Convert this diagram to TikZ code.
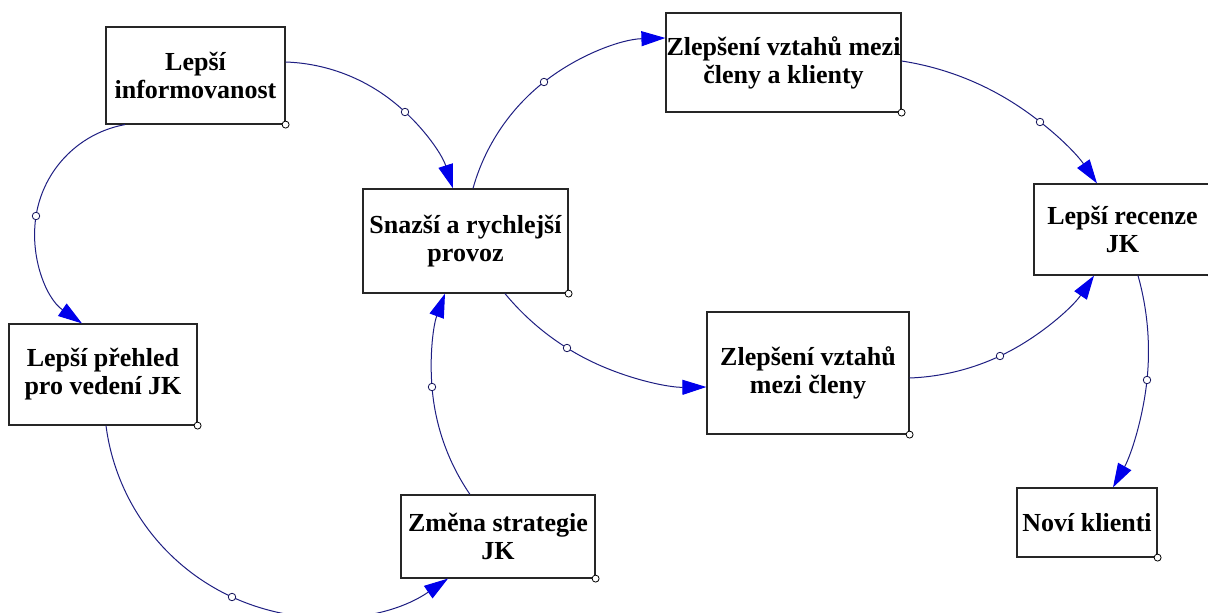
\documentclass[tikz,border=0pt]{standalone}
\usepackage{fontspec}
\setmainfont{Liberation Serif}
\usetikzlibrary{arrows.meta,calc}
\definecolor{linkblue}{RGB}{30,30,130}
\definecolor{headblue}{RGB}{0,0,235}
\newdimen\aSx \newdimen\aSy \newdimen\aMx \newdimen\aMy \newdimen\aEx \newdimen\aEy
\tikzset{
  box/.style={draw=black!85, line width=1.2pt, fill=white, align=center,
    font=\fontsize{26}{28}\selectfont\bfseries, inner sep=0pt},
  corner/.style={circle, draw=black, fill=white, line width=0.8pt, minimum size=7pt, inner sep=0pt},
  conn/.style={draw=linkblue, line width=1pt, -{Triangle[length=24pt,width=15pt,color=headblue]}},
  midpt/.style={circle, draw=linkblue!70!black, fill=white, line width=0.8pt, minimum size=7.5pt, inner sep=0pt},
}
\newcommand\mkbox[6]{%
  \node[box, minimum width={(#4-#2)*1pt}, minimum height={(#5-#3)*1pt}] (#1) at ({(#2+#4)/2},{(#3+#5)/2}) {#6};
  \node[corner] (#1c) at (#1.south east) {};
}
% circular-arc connector from #1 through #2 to #3
\newcommand\arcconn[3]{%
  \path #1 coordinate (aS) #2 coordinate (aM) #3 coordinate (aE);
  \pgfextractx{\aSx}{\pgfpointanchor{aS}{center}}%
  \pgfextracty{\aSy}{\pgfpointanchor{aS}{center}}%
  \pgfextractx{\aMx}{\pgfpointanchor{aM}{center}}%
  \pgfextracty{\aMy}{\pgfpointanchor{aM}{center}}%
  \pgfextractx{\aEx}{\pgfpointanchor{aE}{center}}%
  \pgfextracty{\aEy}{\pgfpointanchor{aE}{center}}%
  \pgfmathsetmacro\qax{(\aMx-\aSx)/100}%
  \pgfmathsetmacro\qay{(\aMy-\aSy)/100}%
  \pgfmathsetmacro\qbx{(\aEx-\aSx)/100}%
  \pgfmathsetmacro\qby{(\aEy-\aSy)/100}%
  \pgfmathsetmacro\qcr{\qax*\qby-\qay*\qbx}%
  \pgfmathsetmacro\qaa{\qax*\qax+\qay*\qay}%
  \pgfmathsetmacro\qbb{\qbx*\qbx+\qby*\qby}%
  \pgfmathsetmacro\qux{(\qby*\qaa-\qay*\qbb)/(2*\qcr)}%
  \pgfmathsetmacro\quy{(\qax*\qbb-\qbx*\qaa)/(2*\qcr)}%
  \pgfmathsetmacro\qrr{sqrt(\qux*\qux+\quy*\quy)}%
  \pgfmathsetmacro\qtS{atan2(-\quy,-\qux)}%
  \pgfmathsetmacro\qtE{atan2(\qby-\quy,\qbx-\qux)}%
  \pgfmathsetmacro\qdd{mod(\qtE-\qtS+720,360)}%
  \pgfmathsetmacro\qdd{\qcr>0 ? \qdd : \qdd-360}%
  \pgfmathsetmacro\qUx{\aSx+100*\qux}%
  \pgfmathsetmacro\qUy{\aSy+100*\quy}%
  \pgfmathsetmacro\qR{100*\qrr}%
  \pgfmathsetmacro\qtH{\qtS+\qdd/2}%
  \pgfmathsetmacro\qk{4/3*tan(\qdd/8)*\qR}%
  \pgfmathsetmacro\qHx{\qUx+\qR*cos(\qtH)}%
  \pgfmathsetmacro\qHy{\qUy+\qR*sin(\qtH)}%
  \pgfmathsetmacro\qCax{\aSx-\qk*sin(\qtS)}%
  \pgfmathsetmacro\qCay{\aSy+\qk*cos(\qtS)}%
  \pgfmathsetmacro\qCbx{\qHx+\qk*sin(\qtH)}%
  \pgfmathsetmacro\qCby{\qHy-\qk*cos(\qtH)}%
  \pgfmathsetmacro\qCcx{\qHx-\qk*sin(\qtH)}%
  \pgfmathsetmacro\qCcy{\qHy+\qk*cos(\qtH)}%
  \pgfmathsetmacro\qCdx{\aEx+\qk*sin(\qtE)}%
  \pgfmathsetmacro\qCdy{\aEy-\qk*cos(\qtE)}%
  \draw[conn] #1 .. controls (\qCax pt,\qCay pt) and (\qCbx pt,\qCby pt) .. (\qHx pt,\qHy pt)
     .. controls (\qCcx pt,\qCcy pt) and (\qCdx pt,\qCdy pt) .. #3;
  \node[midpt] at #2 {};
}
\begin{document}
\begin{tikzpicture}[x=1pt,y=-1pt]
\useasboundingbox (0,0) rectangle (1208,613);
\fill[white] (0,0) rectangle (1208,613);
\mkbox{b1}{106}{27}{285}{124}{Lepší\\informovanost}
\mkbox{b2}{363}{189}{568}{293}{Snazší a rychlejší\\provoz}
\mkbox{b3}{401}{495}{595}{578}{Změna strategie\\JK}
\mkbox{b4}{1034}{184}{1211}{275}{Lepší recenze\\JK}
\mkbox{b5}{9}{324}{197}{425}{Lepší přehled\\pro vedení JK}
\mkbox{b6}{666}{13}{901}{112}{Zlepšení vztahů mezi\\členy a klienty}
\mkbox{b7}{707}{312}{909}{434}{Zlepšení vztahů\\mezi členy}
\mkbox{b8}{1017}{488}{1157}{557}{Noví klienti}
\arcconn{(b1.east |- 0,62)}{(405,112)}{(b2.north -| 453,0)}
\arcconn{(b2.north -| 473,0)}{(544,82)}{(b6.west |- 0,38)}
\arcconn{(b6.east |- 0,61)}{(1040,122)}{(b4.north -| 1097,0)}
\arcconn{(b2.south -| 505,0)}{(567,348)}{(b7.west |- 0,387)}
\arcconn{(b7.east |- 0,378)}{(1000,356)}{(b4.south -| 1094,0)}
\arcconn{(b4.south -| 1138,0)}{(1147,380)}{(b8.north -| 1113,0)}
\arcconn{(b1.south -| 125,0)}{(36,216)}{(b5.north -| 82,0)}
\arcconn{(b5.south -| 106,0)}{(232,597)}{(b3.south -| 448,0)}
\arcconn{(b3.north -| 470,0)}{(432,387)}{(b2.south -| 445,0)}
\end{tikzpicture}
\end{document}
